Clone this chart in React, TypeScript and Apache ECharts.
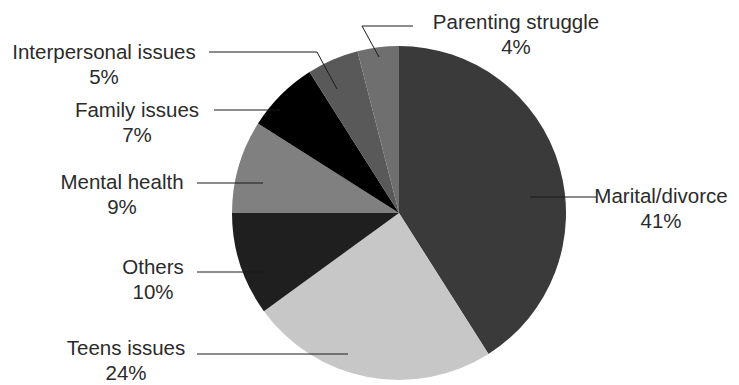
import React, { useEffect, useRef } from "react";
import * as echarts from "echarts";

const categories = [
  "Marital/divorce",
  "Teens issues",
  "Others",
  "Mental health",
  "Family issues",
  "Interpersonal issues",
  "Parenting struggle",
];
const shares = [41, 24, 10, 9, 7, 5, 4];
const sliceColors = ["#3a3a3a", "#c7c7c7", "#1f1f1f", "#808080", "#000000", "#595959", "#6f6f6f"];

// label placement (text block centre + leader line points), Excel-style
const labelPlacement = [
  { x: 661, y: 208, line: [[530, 197], [596, 197]] },
  { x: 126, y: 360, line: [[348, 354], [197, 354]] },
  { x: 153, y: 279, line: [[263, 272], [197, 272]] },
  { x: 122, y: 194, line: [[263, 183], [197, 183]] },
  { x: 137, y: 122, line: [[280, 110], [214, 110]] },
  { x: 104, y: 64, line: [[337, 89], [317, 52], [209, 52]] },
  { x: 516, y: 34, line: [[379, 57], [362, 26], [413, 26]] },
];

export default function App() {
  const ref = useRef<HTMLDivElement>(null);
  useEffect(() => {
    if (!ref.current) return;
    const chart = echarts.init(ref.current, null, { renderer: "svg" });
    const pieData = (transparent: boolean) =>
      categories.map((name, i) => ({
        name,
        value: shares[i],
        itemStyle: { color: transparent ? "rgba(0,0,0,0)" : sliceColors[i] },
      }));
    chart.setOption({
      animation: false,
      backgroundColor: "#ffffff",
      series: [
        {
          type: "pie",
          z: 2,
          center: [399, 213],
          radius: 167,
          startAngle: 90,
          clockwise: true,
          silent: true,
          data: pieData(false),
          label: { show: false },
          labelLine: { show: false },
        },
        {
          type: "pie",
          z: 5,
          center: [399, 213],
          radius: 167,
          startAngle: 90,
          clockwise: true,
          silent: true,
          avoidLabelOverlap: false,
          data: pieData(true),
          label: {
            show: true,
            formatter: (p: any) => `${p.name}\n${p.value}%`,
            fontFamily: "Liberation Sans",
            fontSize: 20.5,
            lineHeight: 25,
            color: "#2b2b2b",
            align: "center",
          },
          labelLine: {
            show: true,
            lineStyle: { color: "#1a1a1a", width: 1 },
          },
          labelLayout: (params: any) => {
            const p = labelPlacement[params.dataIndex];
            return {
              x: p.x,
              y: p.y,
              align: "center",
              verticalAlign: "middle",
              labelLinePoints: p.line,
            };
          },
        },
      ],
    });
    return () => chart.dispose();
  }, []);
  return (
    <div
      ref={ref}
      style={{ position: "fixed", left: 0, top: 0, width: 739, height: 385 }}
    />
  );
}
